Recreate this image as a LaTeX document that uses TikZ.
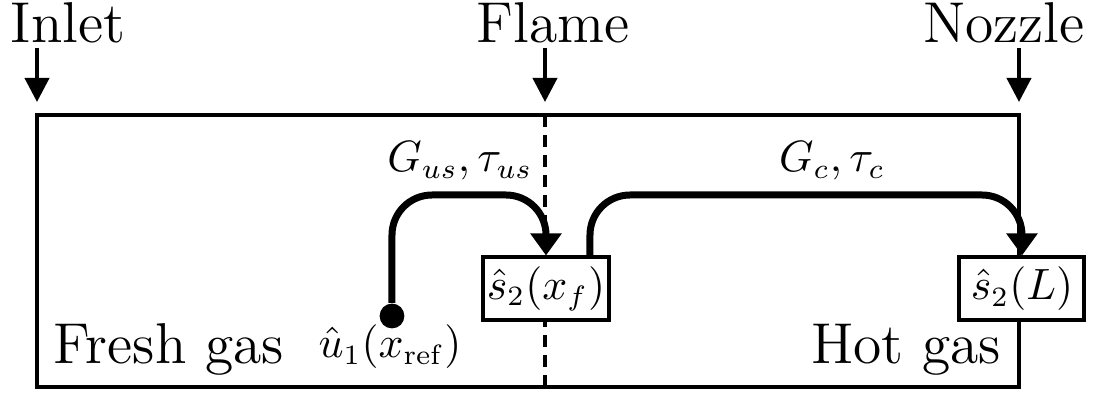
\documentclass[tikz,border=0pt]{standalone}
\usetikzlibrary{arrows.meta,calc}
\begin{document}
\begin{tikzpicture}[x=0.25pt,y=-0.25pt,
  thinline/.style={line width=1pt},
  bigtext/.style={font=\Large, inner sep=0pt},
  smalltext/.style={font=\fontsize{10.5}{12}\selectfont},
  marker/.style={thinline, -{Triangle[length=6pt,width=6pt]}},
  flow/.style={line width=1.75pt, rounded corners=10pt, -{Triangle[length=5.5pt,width=7.5pt]}},
  probe/.style={draw, thinline, fill=white, inner sep=0pt, minimum height=15.75pt, smalltext},
  mathlabel/.style={anchor=base, inner sep=0pt, smalltext}]
\useasboundingbox (0,0) rectangle (1096,394);

% top labels
\node[bigtext, anchor=base] (inlet) at (68,43) {Inlet};
\node[bigtext, anchor=base] (flame) at (553,43) {Flame};
\node[bigtext, anchor=base] (nozzle) at (1004,43) {Nozzle};

% marker arrows
\coordinate (inA) at (37,48);   \coordinate (inB) at (37,102);
\coordinate (flA) at (545,48);  \coordinate (flB) at (545,102);
\coordinate (noA) at (1019,48); \coordinate (noB) at (1019,102);
\draw[marker] (inA) -- (inB);
\draw[marker] (flA) -- (flB);
\draw[marker] (noA) -- (noB);

% duct
\coordinate (ductNW) at (37,115);
\coordinate (ductSE) at (1019,387);
\draw[thinline] (ductNW) rectangle (ductSE);

% flame position (dashed)
\coordinate (fT) at (545,115);
\coordinate (fB) at (545,387);
\draw[thinline, dash pattern=on 3pt off 2pt] (fT) -- (fB);

% region labels
\node[bigtext, anchor=base west] (fresh) at (53,364) {Fresh gas};
\node[bigtext, anchor=base east] (hot) at (1002,364) {Hot gas};

% probes
\node[probe, minimum width=31.5pt] (sf) at (546,289) {$\hat{s}_2(x_f)$};
\node[probe, minimum width=31.25pt] (sl) at (1022,289) {$\hat{s}_2(L)$};

% reference point
\node[circle, fill, inner sep=0pt, minimum size=6.2pt] (dot) at (392,316) {};
\node[mathlabel] (ulab) at (390,358) {$\hat{u}_1(x_{\mathrm{ref}})$};

% transfer paths
\coordinate (top1) at (546,195);
\coordinate (top2) at (1022,195);
\coordinate (a2s) at (590,258);
\draw[flow] (dot.north) |- (top1) -- (sf.north);
\draw[flow] (a2s) |- (top2) -- (sl.north);

\node[mathlabel] (gus) at (460,172) {$G_{us},\tau_{us}$};
\node[mathlabel] (gc) at (832,172) {$G_c,\tau_c$};
\end{tikzpicture}
\end{document}
